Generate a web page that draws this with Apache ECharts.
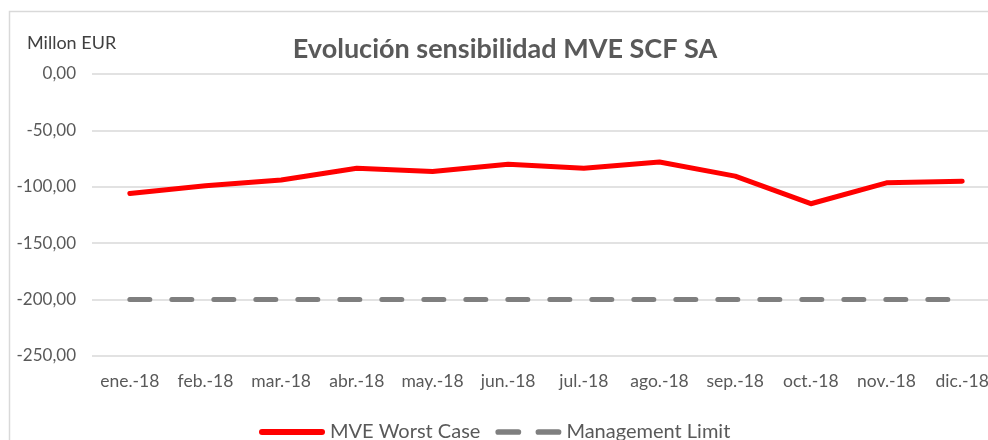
<!DOCTYPE html>
<html>
<head>
<meta charset="utf-8">
<script src="https://cdn.jsdelivr.net/npm/echarts@6/dist/echarts.min.js"></script>
<style>
  html, body { margin: 0; padding: 0; background: #fff; overflow: hidden; }
  #chart { width: 1012px; height: 440px; }
</style>
</head>
<body>
<div id="chart"></div>
<script>
// meses
var months = ['ene.-18', 'feb.-18', 'mar.-18', 'abr.-18', 'may.-18', 'jun.-18',
  'jul.-18', 'ago.-18', 'sep.-18', 'oct.-18', 'nov.-18', 'dic.-18'];
// MVE worst case (millon EUR)
var worstCase = [-106, -99, -94, -83.5, -86.5, -80, -83.5, -78, -90.5, -115, -96.5, -95];
// limite de gestion
var mgmtLimit = [-200, -200, -200, -200, -200, -200, -200, -200, -200, -200, -200, -200];

var chart = echarts.init(document.getElementById('chart'));
var font = 'Lato, "Open Sans", sans-serif';

var option = {
  animation: false,
  graphic: [
    {
      type: 'rect',
      shape: { x: 9.5, y: 11.5, width: 1100, height: 500 },
      style: { fill: 'none', stroke: '#d9d9d9', lineWidth: 1.5 }
    },
    {
      type: 'text',
      left: 27, top: 34,
      style: { text: 'Millon EUR', fontSize: 18, fill: '#404040', fontFamily: font }
    }
  ],
  title: {
    text: 'Evolución sensibilidad MVE SCF SA',
    left: 500, top: 31, textAlign: 'center',
    textStyle: { fontSize: 27, fontWeight: 'bold', color: '#595959', fontFamily: font }
  },
  legend: {
    top: 417, left: 254,
    itemWidth: 66, itemHeight: 6, itemGap: 15,
    textStyle: { fontSize: 20, color: '#595959', fontFamily: font },
    data: [
      { name: 'MVE Worst Case', icon: 'path://M3,0 H63 A3,3 0 0 1 63,6 H3 A3,3 0 0 1 3,0 Z' },
      { name: 'Management Limit', icon: 'path://M3,0 H24 A3,3 0 0 1 24,6 H3 A3,3 0 0 1 3,0 Z M45,0 H66 A3,3 0 0 1 66,6 H45 A3,3 0 0 1 45,0 Z' }
    ]
  },
  grid: { left: 92, top: 74, width: 908, height: 282, containLabel: false },
  xAxis: {
    type: 'category',
    data: months,
    boundaryGap: true,
    axisLine: { show: false },
    axisTick: { show: false },
    axisLabel: { color: '#595959', fontSize: 17.5, margin: 16, fontFamily: font, interval: 0 }
  },
  yAxis: {
    type: 'value',
    min: -250, max: 0, interval: 50,
    axisLine: { show: false },
    axisTick: { show: false },
    splitLine: { lineStyle: { color: '#d9d9d9', width: 1.5 } },
    axisLabel: {
      color: '#595959', fontSize: 17, margin: 16, fontFamily: font,
      formatter: function (v) { return v.toFixed(2).replace('.', ','); }
    }
  },
  series: [
    {
      name: 'MVE Worst Case',
      type: 'line',
      data: worstCase,
      symbol: 'none',
      lineStyle: { color: '#ff0000', width: 5, cap: 'round', join: 'round' },
      itemStyle: { color: '#ff0000' },
      z: 3
    },
    {
      name: 'Management Limit',
      type: 'line',
      data: mgmtLimit,
      symbol: 'none',
      lineStyle: { color: '#7f7f7f', width: 5, type: [20, 22], cap: 'round' },
      itemStyle: { color: '#7f7f7f' },
      z: 2
    }
  ]
};
chart.setOption(option);
</script>
</body>
</html>
